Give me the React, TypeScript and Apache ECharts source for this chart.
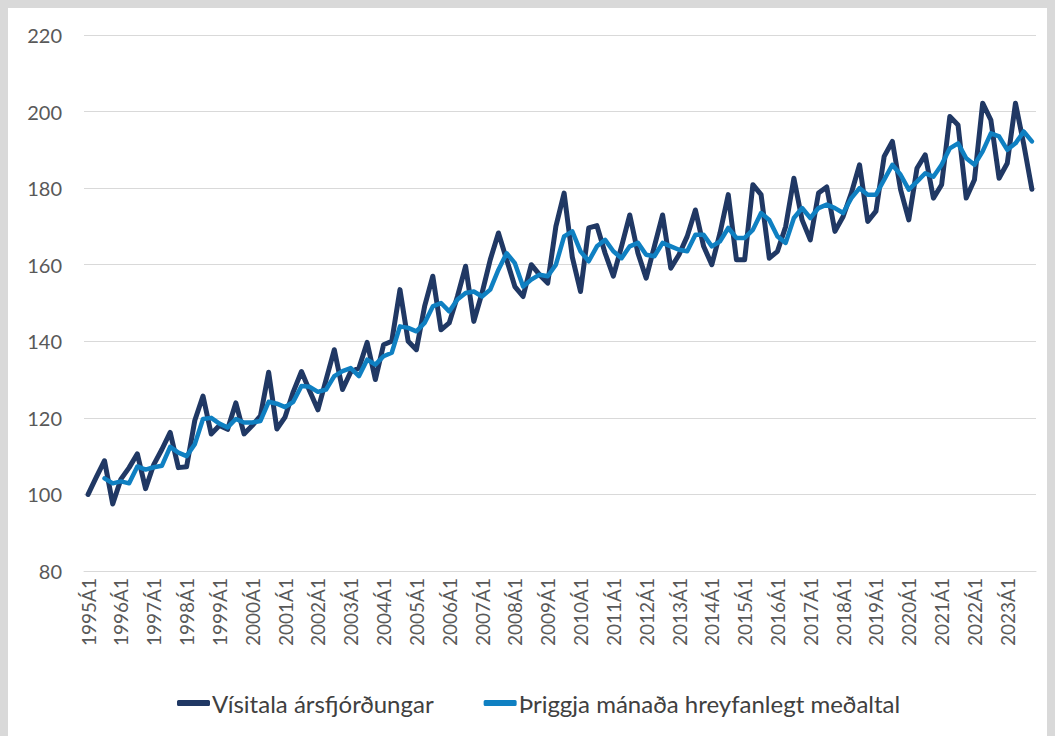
import React, { useEffect, useRef } from "react";
import * as echarts from "echarts";

const years: number[] = [];
for (let y = 1995; y <= 2023; y++) years.push(y);
const quarters = ["Á1", "Á2", "Á3", "Á4"];
const categories: string[] = [];
years.forEach((y) => quarters.forEach((q) => categories.push(`${y}${q}`)));

const seriesNames = ["Vísitala ársfjórðungar", "Þriggja mánaða hreyfanlegt meðaltal"];

const quarterlyIndex = [
  100, 104.5, 108.8, 97.5, 104, 107, 110.6, 101.5, 107.8, 111.8, 116.2, 107,
  107.2, 119.3, 125.7, 115.8, 118, 117, 123.9, 115.8, 118, 120.5, 131.9, 117.1,
  120.2, 126.8, 132.1, 127, 122.1, 130, 137.8, 127.4, 132, 133, 139.7, 130,
  139.1, 140, 153.5, 140, 137.8, 149.1, 157, 143, 144.8, 151.7, 159.6, 145.2,
  152.6, 161.3, 168.3, 161.3, 154.3, 151.7, 160, 157.4, 155.2, 170, 178.7, 162,
  153, 169.6, 170.2, 163, 157, 164.8, 173, 163, 156.5, 164.8, 173, 159.1,
  162.6, 167.4, 174.3, 164.8, 160, 168.3, 178.3, 161.3, 161.3, 180.9, 178.3, 161.7,
  163.5, 170, 182.6, 171.7, 166.5, 178.7, 180.3, 168.7, 172.6, 178.7, 186.1, 171.3,
  174, 188.3, 192.2, 179.6, 171.7, 185.2, 188.7, 177.4, 180.9, 198.7, 196.5, 177.4,
  182.2, 202.2, 197.8, 182.6, 186.5, 202.2, 191.5, 179.7,
];

const movingAverage = [
  null, null, 104.2, 102.9, 103.4, 102.9, 107.3, 106.5, 107.1, 107.5, 112.4, 110.9,
  110, 113.1, 119.7, 120, 118.5, 117.5, 119.7, 118.8, 118.8, 119.2, 124.2, 123.7,
  122.8, 124.2, 128.3, 128.1, 126.8, 127.4, 130.9, 132.2, 133, 130.9, 135.2, 133.9,
  136.1, 137, 143.9, 143.5, 142.6, 144.8, 149.1, 150, 147.8, 150.9, 152.6, 153,
  151.7, 153.5, 158.7, 163, 160.4, 154.3, 156.1, 157.4, 157, 160, 167.4, 168.7,
  163.5, 160.9, 164.8, 166.5, 163.5, 161.7, 164.8, 165.7, 162.6, 162.2, 165.7, 164.8,
  163.9, 163.5, 167.8, 167.8, 164.8, 166.1, 169.6, 167, 167, 169.1, 173.5, 171.7,
  167.4, 165.7, 172.2, 174.8, 172.2, 174.8, 175.7, 174.8, 173.5, 177.4, 180, 178.3,
  178.3, 182.2, 186.1, 183.5, 179.6, 181.7, 183.9, 183, 186.1, 190.4, 191.7, 187.8,
  186.1, 189.6, 194.3, 193.5, 190, 191.7, 194.8, 192.2,
];

const FONT = "Lato, 'Open Sans', sans-serif";

export default function App() {
  const ref = useRef<HTMLDivElement>(null);
  useEffect(() => {
    document.body.style.margin = "0";
    if (!ref.current) return;
    const chart = echarts.init(ref.current, undefined, { renderer: "svg" });
    chart.setOption({
      animation: false,
      textStyle: { fontFamily: FONT },
      grid: { left: 84, right: 19, top: 35, bottom: 165, containLabel: false },
      legend: {
        left: 172,
        top: 686,
        itemWidth: 33,
        itemHeight: 6,
        itemGap: 50,
        icon: "roundRect",
        textStyle: { fontSize: 24, color: "#404040", fontFamily: FONT, padding: [0, 0, 0, -3] },
        data: seriesNames,
      },
      xAxis: {
        type: "category",
        data: categories,
        boundaryGap: true,
        axisLine: { show: true, lineStyle: { color: "#d9d9d9", width: 1 } },
        axisTick: { show: false },
        axisLabel: {
          interval: 3,
          rotate: 90,
          margin: 7,
          fontSize: 19,
          color: "#595959",
          fontFamily: FONT,
        },
      },
      yAxis: {
        type: "value",
        min: 80,
        max: 220,
        interval: 20,
        axisLine: { show: false },
        axisTick: { show: false },
        axisLabel: { fontSize: 20, color: "#595959", margin: 22, fontFamily: FONT },
        splitLine: { lineStyle: { color: "#d9d9d9", width: 1 } },
      },
      series: [
        {
          name: seriesNames[0],
          type: "line",
          data: quarterlyIndex,
          showSymbol: false,
          symbol: "none",
          itemStyle: { color: "#203864" },
          lineStyle: { color: "#203864", width: 5, join: "round", cap: "round" },
        },
        {
          name: seriesNames[1],
          type: "line",
          data: movingAverage,
          showSymbol: false,
          symbol: "none",
          itemStyle: { color: "#0f80c2" },
          lineStyle: { color: "#0f80c2", width: 4.5, join: "round", cap: "round" },
        },
      ],
    });
    return () => chart.dispose();
  }, []);

  return (
    <div style={{ position: "relative", width: 1055, height: 736, background: "#d9d9d9", overflow: "hidden" }}>
      <div style={{ position: "absolute", left: 8, top: 8, width: 1039, height: 728, background: "#ffffff" }} />
      <div ref={ref} style={{ position: "absolute", left: 0, top: 0, width: 1055, height: 736 }} />
    </div>
  );
}
